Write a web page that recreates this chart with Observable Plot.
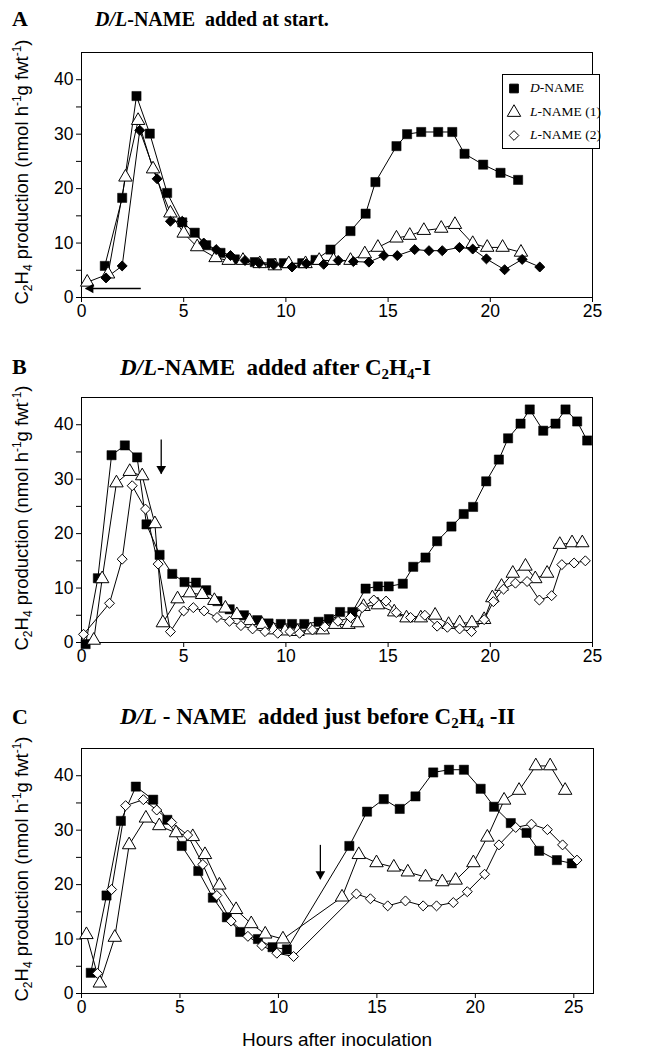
<!DOCTYPE html>
<html><head><meta charset="utf-8">
<script src="https://cdn.jsdelivr.net/npm/d3@7"></script>
<script src="https://cdn.jsdelivr.net/npm/@observablehq/plot@0.6"></script>
<style>
body{margin:0;background:#fff;}
#root{position:relative;width:653px;height:1053px;overflow:hidden;background:#fff;font-family:"Liberation Sans",Arial,sans-serif;color:#000;}
.panel{position:absolute;left:0;}
.letter{position:absolute;left:12px;font:bold 22px "Liberation Serif","Times New Roman",serif;line-height:1;}
.title{position:absolute;font-weight:bold;font-family:"Liberation Serif","Times New Roman",serif;white-space:pre;line-height:1;}
.title sub{font-size:0.65em;vertical-align:-0.25em;line-height:0;}
.ylab{position:absolute;left:22px;font-size:18.5px;white-space:nowrap;transform:translate(-50%,-50%) rotate(-90deg);line-height:1;}
.ylab sub,.ylab sup{font-size:12px;line-height:0;}
.ylab sub{vertical-align:-4px;}
.ylab sup{vertical-align:7px;}
.xlab{position:absolute;left:337px;top:1040px;transform:translate(-50%,-50%);font-size:19px;white-space:nowrap;}
.legend{position:absolute;left:502px;top:74px;width:96px;height:73px;border:1px solid #000;background:#fff;font:13.5px "Liberation Serif","Times New Roman",serif;}
.legend .row{position:absolute;left:0;height:20px;display:flex;align-items:center;white-space:nowrap;}
.legend svg{margin-left:3px;margin-right:8px;}
</style>
</head><body>
<div id="root"></div>
<script>
// ---------- data ----------
const xTicks = [0, 5, 10, 15, 20, 25];
const yTicks = [0, 5, 10, 15, 20, 25, 30, 35, 40];
const seriesNames = ["D-NAME", "L-NAME (1)", "L-NAME (2)"];

// Panel A: D/L-NAME added at start
const A_D = [[1.14,5.8],[1.99,18.3],[2.69,37.0],[3.34,30.1],[4.19,19.2],[4.93,13.8],[5.54,11.9],[6.1,9.6],[6.8,8.2],[7.5,7.0],[8.48,6.5],[9.3,6.3],[9.9,6.3],[10.8,6.3],[11.45,6.9],[12.18,8.8],[13.16,12.2],[13.9,15.4],[14.38,21.2],[15.41,27.8],[15.93,30.0],[16.62,30.4],[17.45,30.4],[18.14,30.4],[18.74,26.4],[19.65,24.4],[20.5,22.9],[21.36,21.6]];
const A_L1 = [[0.28,2.8],[1.3,4.3],[2.15,22.1],[2.77,32.5],[3.5,23.6],[4.35,15.5],[5.0,11.8],[5.66,9.3],[6.56,7.3],[7.2,6.8],[7.9,6.8],[8.72,6.2],[9.46,5.8],[10.14,6.2],[10.96,6.2],[11.63,6.8],[12.33,6.8],[13.16,6.8],[13.86,8.0],[14.5,9.2],[15.41,10.9],[16.06,11.4],[16.75,12.3],[17.6,12.7],[18.27,13.4],[19.14,9.9],[19.85,9.2],[20.6,9.2],[21.5,8.3]];
const A_L2 = [[1.2,3.6],[1.99,5.8],[2.85,30.7],[3.7,21.8],[4.35,14.0],[4.93,14.0],[5.98,10.0],[6.59,8.8],[7.29,7.7],[8.0,6.8],[8.7,6.3],[9.4,6.0],[10.3,5.6],[11.0,6.2],[11.85,6.1],[12.56,6.8],[13.3,6.6],[14.06,6.5],[14.79,7.7],[15.45,7.7],[16.3,8.8],[17.0,8.6],[17.65,8.6],[18.49,9.2],[19.14,8.9],[19.81,7.1],[20.7,5.1],[21.56,7.0],[22.42,5.6]];
const A_arrow = [[2.9,1.65,0.2,1.65]];

// Panel B: added after C2H4-I
const B_D = [[0.2,-0.3],[0.8,11.8],[1.47,34.4],[2.12,36.2],[2.72,34.0],[3.18,21.7],[3.82,16.1],[4.44,12.6],[5.04,11.1],[5.6,11.0],[6.1,9.6],[6.65,7.6],[7.25,6.1],[7.95,5.0],[8.6,4.1],[9.15,3.5],[9.75,3.4],[10.3,3.4],[10.9,3.4],[11.6,3.8],[12.1,4.3],[12.65,5.6],[13.25,5.6],[13.9,9.9],[14.5,10.3],[15.03,10.3],[15.72,10.8],[16.23,13.9],[16.83,15.6],[17.4,18.6],[18.1,21.3],[18.7,23.6],[19.16,24.9],[19.8,29.6],[20.42,33.6],[20.87,37.5],[21.48,40.2],[21.93,42.8],[22.59,38.9],[23.19,40.2],[23.68,42.8],[24.25,40.6],[24.74,37.1]];
const B_L1 = [[0.6,0.4],[1.01,11.7],[1.71,29.3],[2.36,31.4],[2.97,30.6],[3.59,21.8],[3.98,3.6],[4.7,8.0],[5.3,9.1],[5.9,8.8],[6.5,7.7],[7.04,6.3],[7.6,5.1],[8.22,4.0],[8.84,3.3],[9.4,2.3],[9.96,2.1],[10.57,2.0],[11.2,2.3],[11.8,2.3],[12.4,3.3],[13.06,3.3],[13.5,3.6],[13.8,6.6],[14.5,6.9],[15.3,5.6],[15.9,4.5],[16.6,4.5],[17.3,5.0],[17.96,3.3],[18.5,3.6],[19.1,3.6],[19.7,4.2],[20.1,8.2],[20.55,10.3],[21.1,12.7],[21.72,14.0],[22.2,11.7],[22.78,12.7],[23.4,18.0],[24.0,18.3],[24.5,18.3]];
const B_L2 = [[0.1,1.5],[1.37,7.2],[1.99,15.3],[2.48,28.8],[3.13,24.5],[3.75,14.4],[4.35,2.0],[5.0,5.8],[5.47,6.4],[6.0,5.8],[6.63,4.6],[7.24,3.9],[7.8,3.1],[8.37,2.5],[8.98,2.0],[9.6,1.7],[10.2,2.0],[10.67,1.7],[11.3,2.3],[11.9,2.9],[12.55,3.9],[13.16,4.6],[13.73,6.4],[14.3,7.8],[14.9,7.6],[15.4,5.5],[16.1,4.6],[16.8,5.0],[17.4,3.0],[17.9,2.8],[18.5,2.5],[19.08,2.0],[19.7,4.2],[20.15,7.5],[20.65,9.8],[21.23,10.9],[21.8,11.2],[22.4,7.8],[23.0,8.6],[23.5,14.3],[24.1,14.6],[24.65,15.0]];
const B_arrow = [[3.9,37.3,3.9,31.0]];

// Panel C: added just before C2H4-II
const C_D = [[0.47,3.8],[1.27,18.0],[2.0,31.7],[2.76,38.0],[3.64,35.6],[4.36,31.9],[5.09,27.1],[5.93,22.5],[6.67,17.6],[7.38,14.0],[8.06,11.3],[8.96,10.0],[9.7,8.5],[10.43,8.1],[13.6,27.1],[14.5,33.4],[15.35,35.7],[16.16,33.9],[16.96,36.2],[17.86,40.6],[18.66,41.1],[19.42,41.1],[20.27,37.6],[20.95,34.3],[21.8,31.3],[22.6,29.5],[23.24,26.2],[24.14,24.5],[24.9,23.9]];
const C_L1 = [[0.25,10.8],[0.93,1.9],[1.69,10.3],[2.42,27.3],[3.27,32.2],[3.95,30.8],[4.8,29.5],[5.65,28.8],[6.27,25.5],[7.0,19.9],[7.85,15.4],[8.62,12.8],[9.33,10.9],[10.23,10.0],[13.23,17.7],[14.08,25.5],[14.98,24.0],[15.86,23.2],[16.57,22.3],[17.47,21.4],[18.32,20.5],[19.0,20.8],[19.9,24.0],[20.61,28.7],[21.46,35.5],[22.22,37.3],[23.07,41.8],[23.8,41.8],[24.56,37.3]];
const C_L2 = [[0.81,3.7],[1.53,19.1],[2.24,34.5],[3.14,35.6],[3.82,33.7],[4.58,31.4],[5.39,29.1],[6.16,23.7],[6.87,18.0],[7.6,13.3],[8.45,10.5],[9.16,8.8],[9.92,7.4],[10.77,6.8],[13.96,18.3],[14.67,17.4],[15.55,16.1],[16.45,17.0],[17.35,16.1],[18.03,16.1],[18.88,16.7],[19.59,18.7],[20.47,21.9],[21.2,27.3],[22.05,30.5],[22.85,31.1],[23.66,30.1],[24.43,27.3],[25.16,24.5]];
const C_arrow = [[12.13,27.3,12.13,21.0]];

// ---------- drawing ----------
const root = document.getElementById("root");
const rows = (arr) => arr.map(([x, y]) => ({x, y}));

function panel({D, L1, L2, arrow, xMax, marginRight, l2Fill}) {
  const a = arrow.map(([x1, y1, x2, y2]) => ({x1, y1, x2, y2, h: y1 === y2}));
  return Plot.plot({
    width: 653, height: 290,
    marginLeft: 81, marginRight, marginTop: 12, marginBottom: 33,
    x: {domain: [0, xMax]},
    y: {domain: [0, 45]},
    style: {fontFamily: '"Liberation Sans", Arial, sans-serif', fontSize: "17.5px", color: "black", background: "white"},
    marks: [
      Plot.frame({stroke: "black", strokeWidth: 1}),
      Plot.axisX({ticks: xTicks, tickSize: 5, tickPadding: 2, fontSize: 17.5, label: null}),
      Plot.axisY({ticks: yTicks, tickSize: 5, tickPadding: 3, fontSize: 17.5, label: null,
                  tickFormat: d => d % 10 === 0 ? String(d) : ""}),
      Plot.line(rows(D), {x: "x", y: "y", stroke: "black", strokeWidth: 1}),
      Plot.line(rows(L1), {x: "x", y: "y", stroke: "black", strokeWidth: 1}),
      Plot.line(rows(L2), {x: "x", y: "y", stroke: "black", strokeWidth: 1}),
      Plot.dot(rows(D), {x: "x", y: "y", symbol: "square", r: 5.2, fill: "black", stroke: "black", strokeWidth: 0.5}),
      Plot.dot(rows(L1), {x: "x", y: "y", symbol: "triangle", r: 5, fill: "white", stroke: "black", strokeWidth: 1}),
      Plot.dot(rows(L2), {x: "x", y: "y", symbol: "diamond2", r: 4.5, fill: l2Fill, stroke: "black", strokeWidth: 1}),
      Plot.link(a, {x1: "x1", y1: "y1", x2: "x2", y2: "y2", stroke: "black", strokeWidth: 1.3}),
      Plot.dot(a, {x: "x2", y: "y2", symbol: "triangle", r: 3.6, fill: "black", stroke: "none",
                   rotate: d => d.h ? -90 : 180, dx: a[0].h ? 5 : 0, dy: a[0].h ? 0 : -5})
    ]
  });
}

function place(el, top) {
  el.classList.add("panel");
  el.style.top = top + "px";
  root.appendChild(el);
}

place(panel({D: A_D, L1: A_L1, L2: A_L2, arrow: A_arrow, xMax: 25, marginRight: 61, l2Fill: "black"}), 40);
place(panel({D: B_D, L1: B_L1, L2: B_L2, arrow: B_arrow, xMax: 25, marginRight: 61, l2Fill: "white"}), 385);
place(panel({D: C_D, L1: C_L1, L2: C_L2, arrow: C_arrow, xMax: 26, marginRight: 60, l2Fill: "white"}), 736);

function html(tag, cls, inner, css) {
  const e = document.createElement(tag);
  e.className = cls; e.innerHTML = inner;
  Object.assign(e.style, css || {});
  root.appendChild(e);
  return e;
}

// panel letters and titles
html("div", "letter", "A", {top: "8px"});
html("div", "title", "<i>D/L</i>-NAME  added at start.", {left: "95px", top: "9px", fontSize: "20px"});
html("div", "letter", "B", {top: "356px"});
html("div", "title", "<i>D/L</i>-NAME  added after C<sub>2</sub>H<sub>4</sub>-I", {left: "120px", top: "356px", fontSize: "23px"});
html("div", "letter", "C", {top: "706px"});
html("div", "title", "<i>D/L</i> - NAME  added just before C<sub>2</sub>H<sub>4</sub> -II", {left: "120px", top: "705px", fontSize: "23px"});

// y-axis titles
const ylabText = "C<sub>2</sub>H<sub>4</sub> production (nmol h<sup>-1</sup>g fwt<sup>-1</sup>)";
[172, 518, 869].forEach(c => html("div", "ylab", ylabText, {top: c + "px"}));

// x-axis title
html("div", "xlab", "Hours after inoculation");

// legend (panel A)
const leg = html("div", "legend", "");
const legSyms = [
  {sym: d3.symbolSquare, size: 75, fill: "black"},
  {sym: d3.symbolTriangle, size: 78, fill: "white"},
  {sym: d3.symbolDiamond2, size: 60, fill: "white"}
];
const legLabels = ["<i>D</i>-NAME", "<i>L</i>-NAME (1)", "<i>L</i>-NAME (2)"];
seriesNames.forEach((name, i) => {
  const row = document.createElement("div");
  row.className = "row";
  row.style.top = (3 + i * 23.5) + "px";
  const s = d3.create("svg").attr("width", 16).attr("height", 16);
  s.append("path").attr("transform", "translate(8,8.5)")
    .attr("d", d3.symbol(legSyms[i].sym, legSyms[i].size)())
    .attr("fill", legSyms[i].fill).attr("stroke", "black").attr("stroke-width", 1);
  row.appendChild(s.node());
  const t = document.createElement("span");
  t.innerHTML = legLabels[i];
  t.title = name;
  row.appendChild(t);
  leg.appendChild(row);
});
</script>
</body></html>
